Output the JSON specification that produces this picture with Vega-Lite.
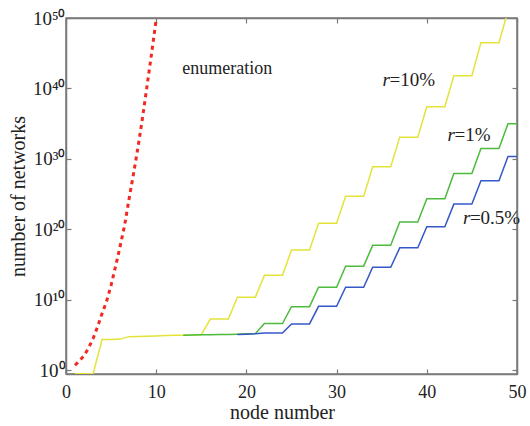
{
"$schema": "https://vega.github.io/schema/vega-lite/v6.json",
"width": 451, "height": 356,
"autosize": {"type": "none"},
"padding": {"left": 66, "top": 18, "right": 13, "bottom": 52},
"background": "white",
"config": {
  "view": {"stroke": "#7a7a7a", "strokeWidth": 1.5},
  "axis": {"domainColor": "#7a7a7a", "domainWidth": 1.5, "tickColor": "#7a7a7a", "tickWidth": 1.2, "tickSize": -5, "grid": false, "labelFont": "Liberation Serif", "labelFontSize": 18, "labelColor": "#222222", "titleFont": "Liberation Serif", "titleFontSize": 20, "titleFontWeight": "normal", "titleColor": "#222222"}
},
"datasets": {
  "enum": [
    {"x": 1, "y": 5.623}, {"x": 1.5, "y": 25.12}, {"x": 2, "y": 125.9}, {"x": 2.5, "y": 1585}, {"x": 3, "y": 3.162e4}, {"x": 3.5, "y": 1.585e6}, {"x": 4, "y": 1.259e8}, {"x": 4.5, "y": 6.31e9}, {"x": 5, "y": 1.259e12}, {"x": 5.5, "y": 6.31e14}, {"x": 6, "y": 3.981e17}, {"x": 6.5, "y": 3.981e20}, {"x": 7, "y": 2.512e24}, {"x": 7.5, "y": 1e28}, {"x": 8, "y": 6.31e31}, {"x": 8.5, "y": 1e36}, {"x": 9, "y": 3.162e40}, {"x": 9.5, "y": 1.259e45}, {"x": 10, "y": 6.31e49}, {"x": 10.5, "y": 1e55}
  ],
  "yellow": [
    {"x": 1, "y": 0.33}, {"x": 2, "y": 0.33}, {"x": 3, "y": 0.33}, {"x": 4, "y": 2.512e4}, {"x": 5, "y": 2.512e4}, {"x": 6, "y": 2.818e4}, {"x": 7, "y": 6.31e4}, {"x": 8, "y": 6.761e4}, {"x": 9, "y": 7.413e4}, {"x": 10, "y": 7.943e4}, {"x": 11, "y": 8.913e4}, {"x": 12, "y": 1e5}, {"x": 13, "y": 1e5}, {"x": 14, "y": 1.047e5}, {"x": 15, "y": 1.122e5},
    {"x": 16, "y": 1.995e7}, {"x": 17, "y": 1.995e7}, {"x": 18, "y": 1.995e7},
    {"x": 19, "y": 2.512e10}, {"x": 20, "y": 2.512e10}, {"x": 21, "y": 2.512e10},
    {"x": 22, "y": 3.162e13}, {"x": 23, "y": 3.162e13}, {"x": 24, "y": 3.162e13},
    {"x": 25, "y": 1.259e17}, {"x": 26, "y": 1.259e17}, {"x": 27, "y": 1.259e17},
    {"x": 28, "y": 7.943e20}, {"x": 29, "y": 7.943e20}, {"x": 30, "y": 7.943e20},
    {"x": 31, "y": 5.012e24}, {"x": 32, "y": 5.012e24}, {"x": 33, "y": 5.012e24},
    {"x": 34, "y": 7.943e28}, {"x": 35, "y": 7.943e28}, {"x": 36, "y": 7.943e28},
    {"x": 37, "y": 1.259e33}, {"x": 38, "y": 1.259e33}, {"x": 39, "y": 1.259e33},
    {"x": 40, "y": 2.512e37}, {"x": 41, "y": 2.512e37}, {"x": 42, "y": 2.512e37},
    {"x": 43, "y": 6.31e41}, {"x": 44, "y": 6.31e41}, {"x": 45, "y": 6.31e41},
    {"x": 46, "y": 3.162e46}, {"x": 47, "y": 3.162e46}, {"x": 48, "y": 3.162e46},
    {"x": 49, "y": 1e51}, {"x": 50, "y": 1e51}
  ],
  "green": [
    {"x": 13, "y": 1e5}, {"x": 14, "y": 1.047e5}, {"x": 15, "y": 1.122e5}, {"x": 16, "y": 1.175e5}, {"x": 17, "y": 1.259e5}, {"x": 18, "y": 1.318e5}, {"x": 19, "y": 1.413e5}, {"x": 20, "y": 1.585e5}, {"x": 21, "y": 1.778e5},
    {"x": 22, "y": 4.467e6}, {"x": 23, "y": 4.467e6}, {"x": 24, "y": 4.467e6},
    {"x": 25, "y": 1.122e9}, {"x": 26, "y": 1.122e9}, {"x": 27, "y": 1.122e9},
    {"x": 28, "y": 6.31e11}, {"x": 29, "y": 6.31e11}, {"x": 30, "y": 6.31e11},
    {"x": 31, "y": 6.31e14}, {"x": 32, "y": 6.31e14}, {"x": 33, "y": 6.31e14},
    {"x": 34, "y": 5.623e17}, {"x": 35, "y": 5.623e17}, {"x": 36, "y": 5.623e17},
    {"x": 37, "y": 1.122e21}, {"x": 38, "y": 1.122e21}, {"x": 39, "y": 1.122e21},
    {"x": 40, "y": 2.239e24}, {"x": 41, "y": 2.239e24}, {"x": 42, "y": 2.239e24},
    {"x": 43, "y": 8.913e27}, {"x": 44, "y": 8.913e27}, {"x": 45, "y": 8.913e27},
    {"x": 46, "y": 3.162e31}, {"x": 47, "y": 3.162e31}, {"x": 48, "y": 3.162e31},
    {"x": 49, "y": 1e35}, {"x": 50, "y": 1e35}
  ],
  "blue": [
    {"x": 19, "y": 1.318e5}, {"x": 20, "y": 1.413e5}, {"x": 21, "y": 1.585e5},
    {"x": 22, "y": 1.995e5}, {"x": 23, "y": 1.995e5}, {"x": 24, "y": 1.995e5},
    {"x": 25, "y": 3.981e6}, {"x": 26, "y": 3.981e6}, {"x": 27, "y": 3.981e6},
    {"x": 28, "y": 1.259e9}, {"x": 29, "y": 1.259e9}, {"x": 30, "y": 1.259e9},
    {"x": 31, "y": 6.31e11}, {"x": 32, "y": 6.31e11}, {"x": 33, "y": 6.31e11},
    {"x": 34, "y": 4.467e14}, {"x": 35, "y": 4.467e14}, {"x": 36, "y": 4.467e14},
    {"x": 37, "y": 2.512e17}, {"x": 38, "y": 2.512e17}, {"x": 39, "y": 2.512e17},
    {"x": 40, "y": 2.512e20}, {"x": 41, "y": 2.512e20}, {"x": 42, "y": 2.512e20},
    {"x": 43, "y": 3.981e23}, {"x": 44, "y": 3.981e23}, {"x": 45, "y": 3.981e23},
    {"x": 46, "y": 7.943e26}, {"x": 47, "y": 7.943e26}, {"x": 48, "y": 7.943e26},
    {"x": 49, "y": 2.239e30}, {"x": 50, "y": 2.239e30}
  ],
  "notes": [
    {"t": "enumeration", "x": 12.9, "y": 5.9e42}
  ],
  "rnotes": [
    {"t": "=10%", "x": 35.1, "y": 1.6e41},
    {"t": "=1%", "x": 42.3, "y": 2.5e33},
    {"t": "=0.5%", "x": 44.0, "y": 4e21}
  ]
},
"layer": [
  {
    "data": {"name": "enum"},
    "mark": {"type": "line", "color": "#f02a20", "strokeWidth": 3, "strokeDash": [4, 4], "clip": true},
    "encoding": {
      "x": {"field": "x", "type": "quantitative", "scale": {"domain": [0, 50], "nice": false},
        "axis": {"orient": "bottom", "values": [0, 10, 20, 30, 40, 50], "title": "node number", "labelFont": "Liberation Serif", "labelFontSize": 18, "labelFlush": false, "labelBaseline": "alphabetic", "labelPadding": 28, "titleX": 216, "titleY": 44, "titleBaseline": "alphabetic", "titleAlign": "center"}},
      "y": {"field": "y", "type": "quantitative", "scale": {"type": "log", "domain": [0.316, 1e50], "nice": false},
        "axis": {"orient": "left", "values": [1, 1e10, 1e20, 1e30, 1e40, 1e50], "labelFont": "Liberation Serif", "labelFontSize": 19, "labelExpr": "datum.value < 10 ? '10⁰' : datum.value < 1e11 ? '10¹⁰' : datum.value < 1e21 ? '10²⁰' : datum.value < 1e31 ? '10³⁰' : datum.value < 1e41 ? '10⁴⁰' : '10⁵⁰'", "labelPadding": 6, "labelFlush": false, "title": "number of networks", "titleX": -48, "titleY": 178, "titleAngle": -90, "titleBaseline": "middle", "titleAlign": "center"}}
    }
  },
  {
    "data": {"name": "yellow"},
    "mark": {"type": "line", "color": "#e3e33a", "strokeWidth": 1.5, "clip": true},
    "encoding": {
      "x": {"field": "x", "type": "quantitative", "axis": {"orient": "top", "values": [0, 10, 20, 30, 40, 50], "labels": false, "title": null}},
      "y": {"field": "y", "type": "quantitative", "axis": {"orient": "right", "values": [1, 1e10, 1e20, 1e30, 1e40, 1e50], "labels": false, "title": null}}
    }
  },
  {
    "data": {"name": "green"},
    "mark": {"type": "line", "color": "#4cbb3c", "strokeWidth": 1.5, "clip": true},
    "encoding": {
      "x": {"field": "x", "type": "quantitative", "axis": null},
      "y": {"field": "y", "type": "quantitative", "axis": null}
    }
  },
  {
    "data": {"name": "blue"},
    "mark": {"type": "line", "color": "#3558c8", "strokeWidth": 1.5, "clip": true},
    "encoding": {
      "x": {"field": "x", "type": "quantitative", "axis": null},
      "y": {"field": "y", "type": "quantitative", "axis": null}
    }
  },
  {
    "data": {"name": "notes"},
    "mark": {"type": "text", "align": "left", "baseline": "middle", "font": "Liberation Serif", "fontSize": 18, "color": "#222222"},
    "encoding": {
      "x": {"field": "x", "type": "quantitative", "axis": null},
      "y": {"field": "y", "type": "quantitative", "axis": null},
      "text": {"field": "t"}
    }
  },
  {
    "data": {"name": "rnotes"},
    "mark": {"type": "text", "align": "left", "baseline": "middle", "font": "Liberation Serif", "fontSize": 19, "fontStyle": "italic", "color": "#222222"},
    "encoding": {
      "x": {"field": "x", "type": "quantitative", "axis": null},
      "y": {"field": "y", "type": "quantitative", "axis": null},
      "text": {"value": "r"}
    }
  },
  {
    "data": {"name": "rnotes"},
    "mark": {"type": "text", "align": "left", "baseline": "middle", "dx": 7, "font": "Liberation Serif", "fontSize": 19, "color": "#222222"},
    "encoding": {
      "x": {"field": "x", "type": "quantitative", "axis": null},
      "y": {"field": "y", "type": "quantitative", "axis": null},
      "text": {"field": "t"}
    }
  }
],
"resolve": {"axis": {"x": "independent", "y": "independent"}}
}
